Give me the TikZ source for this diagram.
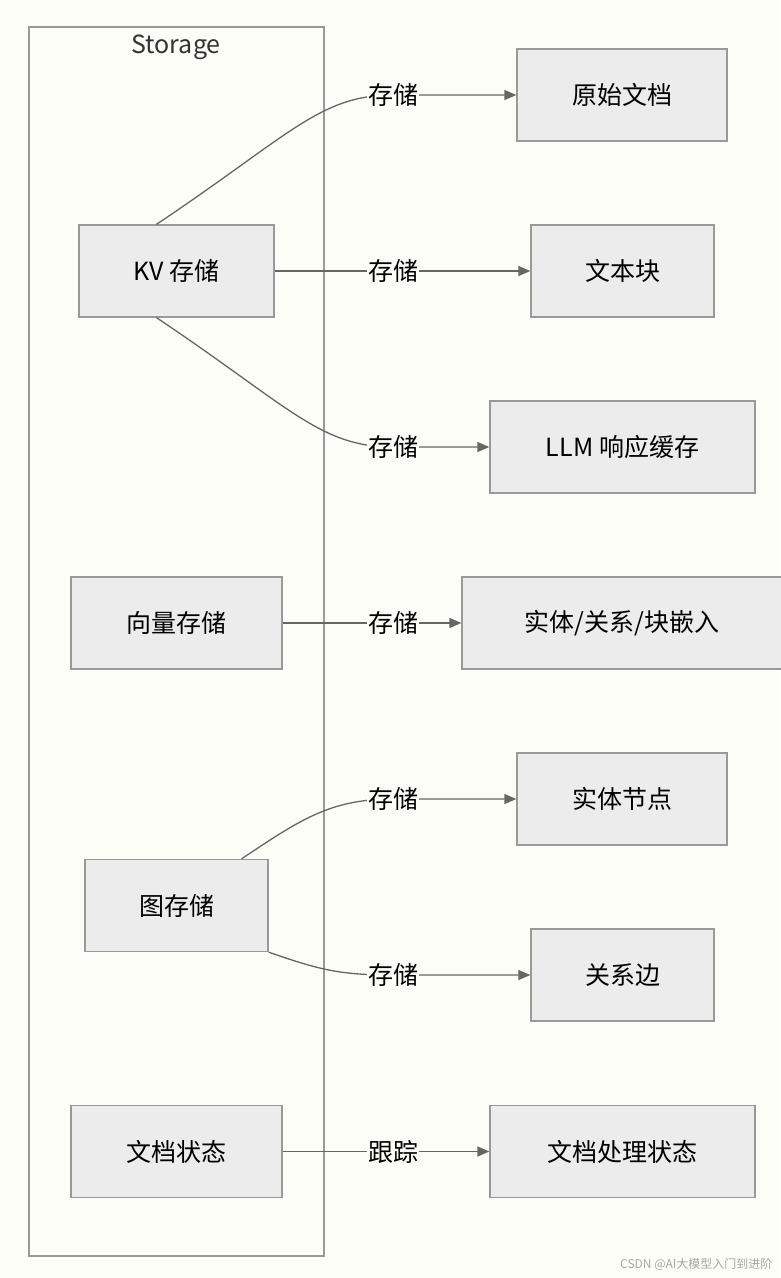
\documentclass[tikz,border=0pt]{standalone}
\usepackage{fontspec}
\setmainfont{Noto Sans CJK SC}
\usetikzlibrary{arrows.meta}
\definecolor{bgc}{HTML}{FDFDF8}
\definecolor{boxc}{HTML}{ECECEC}
\definecolor{linec}{HTML}{999999}
\definecolor{edgec}{HTML}{666666}
\tikzset{
  box/.style={draw=linec,fill=boxc,line width=1.3pt,minimum height=92pt,inner sep=0pt,font=\fontsize{25}{30}\selectfont},
  elabel/.style={fill=bgc,inner sep=1pt,font=\fontsize{25}{30}\selectfont},
  link/.style={draw=edgec,line width=1.3pt,-{Triangle[length=12pt,width=10pt]}}
}
\begin{document}
\begin{tikzpicture}[x=1pt,y=-1pt]
\useasboundingbox[fill=bgc] (0,0) rectangle (780,1278);

% storage group
\draw[linec,line width=1.3pt] (29,27) rectangle (324,1256);
\node[font=\fontsize{25}{30}\selectfont,text=black!80] (title) at (176,47) {Storage};

% left column
\node[box,minimum width=195pt] (kv) at (176.5,271) {KV 存储};
\node[box,minimum width=211pt] (vec) at (176.5,623) {向量存储};
\node[box,minimum width=183pt] (graph) at (176.5,905.5) {图存储};
\node[box,minimum width=211pt] (docst) at (176.5,1151.5) {文档状态};

% right column
\node[box,minimum width=210pt] (raw) at (622,95) {原始文档};
\node[box,minimum width=183pt] (chunk) at (622.5,271) {文本块};
\node[box,minimum width=265pt] (llm) at (622.5,447) {LLM 响应缓存};
\node[box,minimum width=320pt] (emb) at (622,623) {实体/关系/块嵌入};
\node[box,minimum width=210pt] (ent) at (622,799) {实体节点};
\node[box,minimum width=183pt] (rel) at (622.5,975) {关系边};
\node[box,minimum width=265pt] (proc) at (622.5,1151.5) {文档处理状态};

% connectors
\coordinate (c1) at (393,95);
\coordinate (c3) at (393,447);
\coordinate (c5) at (393,799);
\coordinate (c6) at (393,975);
\draw[link] ([xshift=-20pt]kv.north) .. controls (290,135) and (320,95) .. (c1) -- (raw.west);
\draw[link] (kv.east) -- (chunk.west);
\draw[link] ([xshift=-20pt]kv.south) .. controls (290,407) and (320,447) .. (c3) -- (llm.west);
\draw[link] (vec.east) -- (emb.west);
\draw[link] ([xshift=65pt]graph.north) .. controls (300,820) and (330,799) .. (c5) -- (ent.west);
\draw[link] (graph.south east) .. controls (320,970) and (340,975) .. (c6) -- (rel.west);
\draw[link] (docst.east) -- (proc.west);

\node[elabel] (l1) at (c1) {存储};
\node[elabel] (l2) at (393,271) {存储};
\node[elabel] (l3) at (c3) {存储};
\node[elabel] (l4) at (393,623) {存储};
\node[elabel] (l5) at (c5) {存储};
\node[elabel] (l6) at (c6) {存储};
\node[elabel] (l7) at (393,1151.5) {跟踪};

\node[anchor=east,text=black!35,font=\fontsize{12}{14}\selectfont] (mark) at (776,1264) {CSDN @AI大模型入门到进阶};
\end{tikzpicture}
\end{document}
